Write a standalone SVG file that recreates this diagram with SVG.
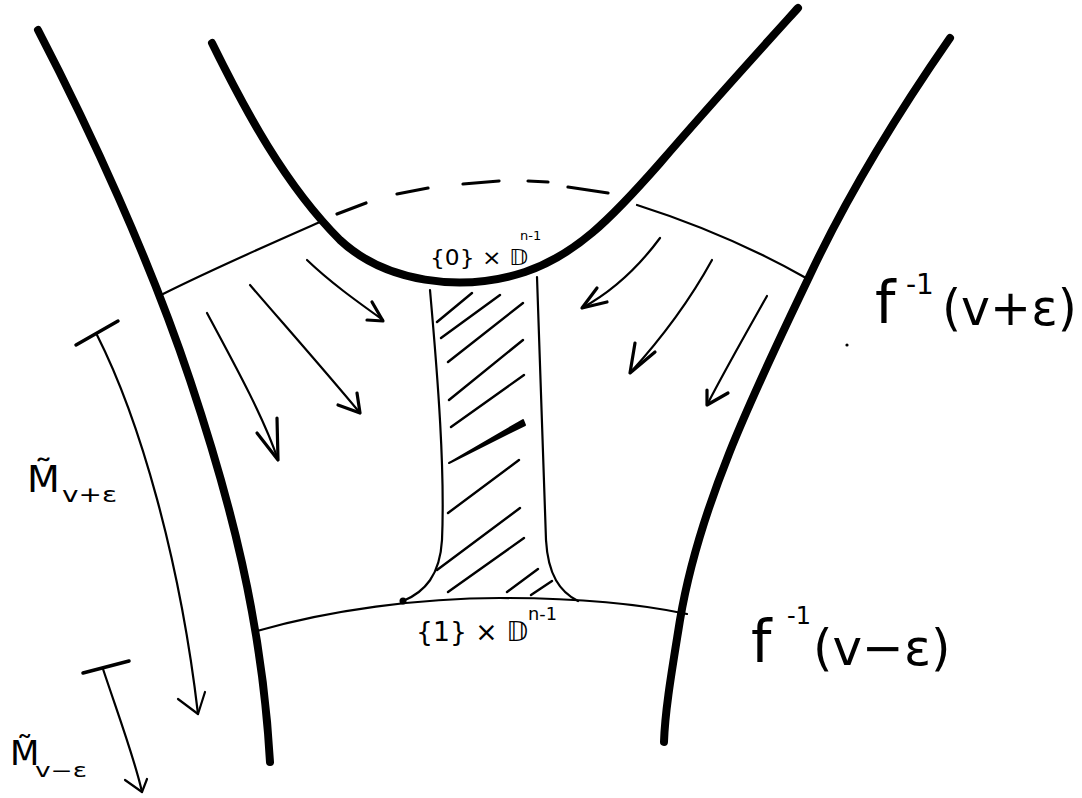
<svg xmlns="http://www.w3.org/2000/svg" width="1082" height="798" viewBox="0 0 1082 798">
<style>
.thick{fill:none;stroke:#000;stroke-width:8;stroke-linecap:round;stroke-linejoin:round}
.thin{fill:none;stroke:#000;stroke-width:2.2;stroke-linecap:round;stroke-linejoin:round}
.dash{fill:none;stroke:#000;stroke-width:3.2;stroke-linecap:round}
.hatch{fill:none;stroke:#000;stroke-width:2.4;stroke-linecap:round}
.arrow{fill:none;stroke:#000;stroke-width:2.2;stroke-linecap:round;stroke-linejoin:round}
.head{fill:none;stroke:#000;stroke-width:3.2;stroke-linecap:round;stroke-linejoin:round}
.bar{fill:none;stroke:#000;stroke-width:3.5;stroke-linecap:round}
.lbl{font-family:"DejaVu Sans","Noto Sans",sans-serif;fill:#000}
</style>
<rect width="1082" height="798" fill="#fff"/>
<g id="sheets">
<path class="thick" d="M38,30 C90,130 150,260 190,380 C230,500 262,620 270,762"/>
<path class="thick" d="M212,43 C245,110 285,185 340,240 C385,282 460,293 525,272 C575,255 610,220 660,163 C710,105 760,50 798,8"/>
<path class="thick" d="M950,38 C900,110 850,190 810,275 C760,380 700,500 680,620 C672,670 665,710 664,742"/>
</g>
<g id="level-upper">
<path class="thin" d="M163,294 C215,268 270,244 320,222"/>
<path class="thin" d="M637,205 C700,225 760,252 806,278"/>
<path class="dash" d="M337,214 L366,203 M397,194 L428,188 M463,184 L499,181 M528,181 L548,182 M568,187 L608,193"/>
</g>
<g id="level-lower">
<path class="thin" d="M257,631 C330,610 420,598 500,598 C580,598 640,604 687,614"/>
<circle cx="403" cy="601" r="3.5" fill="#000"/>
</g>
<g id="handle">
<path class="thin" d="M430,290 C438,380 445,470 442,540 C440,575 425,592 403,601"/>
<path class="thin" d="M537,277 C540,380 543,470 546,540 C548,575 560,592 578,601"/>
<path class="hatch" d="M437,322 L472,293 M441,338 L500,295 M448,362 L523,303 M449,400 L523,340 M451,427 L524,375 M448,513 L519,460 M437,570 L520,508 M448,592 L524,538 M507,592 L538,569 M531,595 L552,581"/>
<path d="M449,463 L523,420 L525,425 Z" fill="#000" stroke="#000" stroke-width="2" stroke-linejoin="round"/>
</g>
<g id="flow-arrows">
<path class="arrow" d="M307,260 C330,282 355,300 383,320"/>
<path class="head" d="M367,320 L383,321 L372,302"/>
<path class="arrow" d="M250,285 C280,320 320,365 360,413"/>
<path class="head" d="M338,405 L360,413 L357,393"/>
<path class="arrow" d="M207,313 C235,365 265,420 278,460"/>
<path class="head" d="M257,433 L278,460 L277,418"/>
<path class="arrow" d="M660,238 C640,265 615,290 582,308"/>
<path class="head" d="M597,288 L582,308 L607,302"/>
<path class="arrow" d="M712,260 C690,300 660,340 630,373"/>
<path class="head" d="M635,343 L630,373 L655,352"/>
<path class="arrow" d="M767,296 C745,335 725,370 707,405"/>
<path class="head" d="M707,390 L707,405 L728,393"/>
</g>
<g id="bracket-upper">
<path class="bar" d="M76,345 L118,321"/>
<path class="thin" d="M97,335 C140,420 180,560 198,714"/>
<path class="thin" d="M178,699 L198,714 L205,692"/>
</g>
<g id="bracket-lower">
<path class="bar" d="M83,673 L129,661"/>
<path class="thin" d="M103,669 C120,720 135,760 142,792"/>
<path class="thin" d="M125,780 L142,792 L147,779"/>
</g>
<g id="labels">
<text class="lbl" x="430" y="265" font-size="22" textLength="98" lengthAdjust="spacingAndGlyphs">{0} × 𝔻</text>
<text class="lbl" x="520" y="240" font-size="13">n-1</text>
<text class="lbl" x="416" y="641" font-size="26" textLength="112" lengthAdjust="spacingAndGlyphs">{1} × 𝔻</text>
<text class="lbl" x="528" y="620" font-size="17" textLength="29" lengthAdjust="spacingAndGlyphs">n-1</text>
<text class="lbl" x="875" y="323" font-size="58">f</text>
<text class="lbl" x="906" y="294" font-size="28">-1</text>
<text class="lbl" x="942" y="325" font-size="49">(v+ε)</text>
<circle cx="847" cy="345" r="1.6" fill="#000"/>
<text class="lbl" x="751" y="662" font-size="58">f</text>
<text class="lbl" x="787" y="624" font-size="24">-1</text>
<text class="lbl" x="813" y="665" font-size="50">(v−ε)</text>
<text class="lbl" x="27" y="492" font-size="38">M̃</text>
<text class="lbl" x="62" y="502" font-size="22" textLength="55" lengthAdjust="spacingAndGlyphs">v+ε</text>
<text class="lbl" x="10" y="765" font-size="34">M̃</text>
<text class="lbl" x="35" y="777" font-size="19" textLength="52" lengthAdjust="spacingAndGlyphs">v−ε</text>
</g>
</svg>
